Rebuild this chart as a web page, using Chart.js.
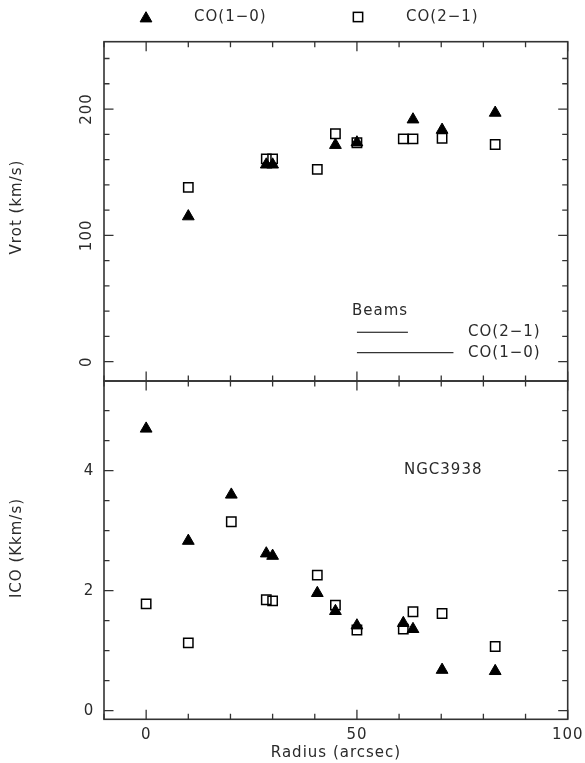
<!DOCTYPE html>
<html>
<head>
<meta charset="utf-8">
<script src="https://cdn.jsdelivr.net/npm/chart.js@4.4.0/dist/chart.umd.min.js"></script>
<style>
  body { margin: 0; background: #fff; }
  .wrap { position: relative; width: 585px; height: 763px; }
  .wrap canvas { position: absolute; left: 0; top: 0; }
</style>
</head>
<body>
<div class="wrap">
  <canvas id="vrotChart" width="585" height="763"></canvas>
  <canvas id="icoChart" width="585" height="763"></canvas>
</div>
<script>
// rotation curve, CO(1-0) and CO(2-1)
var vrotRadius10 = [10, 28.5, 30, 44.9, 50, 63.3, 70.2, 82.8];
var vrot10 = [115, 156, 156, 171.5, 173.5, 191.7, 183.5, 197];
var vrotRadius21 = [10, 28.5, 30, 40.6, 44.9, 50, 61, 63.3, 70.2, 82.8];
var vrot21 = [138, 160.6, 160.6, 152.2, 180.4, 173.3, 176.4, 176.4, 176.9, 171.9];

// integrated intensity profile
var icoRadius = [0, 10, 20.2, 28.5, 30, 40.6, 44.9, 50, 61, 63.3, 70.2, 82.8];
var ico10 = [4.70, 2.83, 3.60, 2.62, 2.58, 1.96, 1.66, 1.42, 1.46, 1.36, 0.68, 0.66];
var ico21 = [1.78, 1.13, 3.15, 1.85, 1.83, 2.26, 1.76, 1.345, 1.36, 1.65, 1.62, 1.07];

// beam sizes (arcsec), drawn as bars starting at r = 50
var beamNames = ['CO(2\u22121)', 'CO(1\u22120)'];
var beamSizes = [12.1, 22.9];
var beamLevels = [23.3, 7.1];
var beamStart = 50;

// axis ranges and ticks
var radiusRange = [-10, 100];
var vrotRange = [-15.3, 253.3];
var icoRange = [-0.143, 5.495];
var radiusTicks = [0, 50, 100];
var vrotTicks = [0, 100, 200];
var icoTicks = [0, 2, 4];

var FONT = '15px "DejaVu Sans", sans-serif';
var INK = '#2a2a2a';
var LINE = '#333';

function toPoints(xs, ys) {
    return xs.map(function(x, i) { return { x: x, y: ys[i] }; });
}

function drawText(ctx, text, x, y, align, rot) {
    ctx.save();
    ctx.translate(x, y);
    if (rot) ctx.rotate(rot);
    ctx.font = FONT;
    ctx.letterSpacing = '1px';
    ctx.fillStyle = INK;
    ctx.textAlign = align || 'center';
    ctx.textBaseline = 'middle';
    ctx.fillText(text, 0, 0);
    ctx.restore();
}

// frame with inward ticks on all four sides, plus tick labels
function framePlugin(cfg) {
    return {
        id: 'frame',
        afterDatasetsDraw: function(chart) {
            var ctx = chart.ctx, a = chart.chartArea;
            var xs = chart.scales.x, ys = chart.scales.y;
            ctx.save();
            ctx.strokeStyle = LINE;
            ctx.lineWidth = 1.6;
            ctx.strokeRect(a.left, a.top, a.right - a.left, a.bottom - a.top);

            ctx.lineWidth = 1.3;
            ctx.beginPath();
            var i, v, p, len;
            for (i = Math.ceil(xs.min / 10); i <= Math.floor(xs.max / 10); i++) {
                v = i * 10;
                p = xs.getPixelForValue(v);
                len = (v % 50 === 0) ? 9.5 : 5.5;
                ctx.moveTo(p, a.top); ctx.lineTo(p, a.top + len);
                ctx.moveTo(p, a.bottom); ctx.lineTo(p, a.bottom - len);
            }
            for (i = Math.ceil(ys.min / cfg.yMinor); i <= Math.floor(ys.max / cfg.yMinor); i++) {
                v = i * cfg.yMinor;
                p = ys.getPixelForValue(v);
                len = (i % cfg.yEvery === 0) ? 9.5 : 5.5;
                ctx.moveTo(a.left, p); ctx.lineTo(a.left + len, p);
                ctx.moveTo(a.right, p); ctx.lineTo(a.right - len, p);
            }
            ctx.stroke();
            ctx.restore();

            cfg.yTicks.forEach(function(t) {
                var py = ys.getPixelForValue(t);
                drawText(ctx, String(t), cfg.yLabelX, py, 'center', cfg.rotateY ? -Math.PI / 2 : 0);
            });
            drawText(ctx, cfg.title, 17, cfg.titleY, 'center', -Math.PI / 2);

            if (cfg.xLabels) {
                radiusTicks.forEach(function(t) {
                    drawText(ctx, String(t), xs.getPixelForValue(t), 735, 'center');
                });
                drawText(ctx, 'Radius (arcsec)', 336, 753, 'center');
            }
            if (cfg.extra) cfg.extra(ctx, chart);
        }
    };
}

function drawTriangle(ctx, x, y, r) {
    ctx.beginPath();
    ctx.moveTo(x, y - r);
    ctx.lineTo(x + r * Math.sin(2 * Math.PI / 3), y + r / 2);
    ctx.lineTo(x - r * Math.sin(2 * Math.PI / 3), y + r / 2);
    ctx.closePath();
    ctx.fillStyle = '#000';
    ctx.strokeStyle = '#000';
    ctx.lineWidth = 1;
    ctx.fill();
    ctx.stroke();
}

function drawSquare(ctx, x, y, s) {
    ctx.strokeStyle = '#000';
    ctx.lineWidth = 1.5;
    ctx.strokeRect(x - s / 2, y - s / 2, s, s);
}

function baseOptions(yRange, pad) {
    return {
        responsive: false,
        animation: false,
        events: [],
        layout: { padding: pad },
        scales: {
            x: { type: 'linear', display: false, min: radiusRange[0], max: radiusRange[1] },
            y: { type: 'linear', display: false, min: yRange[0], max: yRange[1] }
        },
        plugins: { legend: { display: false }, tooltip: { enabled: false } }
    };
}

var triStyle = {
    pointStyle: 'triangle', pointRadius: 6.8,
    backgroundColor: '#000', borderColor: '#000', borderWidth: 1, showLine: false
};
var boxStyle = {
    pointStyle: 'rect', pointRadius: 6.6,
    backgroundColor: 'rgba(0,0,0,0)', borderColor: '#000', borderWidth: 1.5, showLine: false
};

// top panel: rotation velocity
var vrotDatasets = [
    Object.assign({ label: 'CO(1-0)', data: toPoints(vrotRadius10, vrot10) }, triStyle),
    Object.assign({ label: 'CO(2-1)', data: toPoints(vrotRadius21, vrot21) }, boxStyle)
];
beamSizes.forEach(function(size, i) {
    vrotDatasets.push({
        label: 'beam ' + beamNames[i],
        data: [{ x: beamStart, y: beamLevels[i] }, { x: beamStart + size, y: beamLevels[i] }],
        showLine: true, pointRadius: 0, borderColor: '#000', borderWidth: 1
    });
});

new Chart(document.getElementById('vrotChart'), {
    type: 'scatter',
    data: { datasets: vrotDatasets },
    options: baseOptions(vrotRange, { top: 41.7, right: 17.3, bottom: 382, left: 104 }),
    plugins: [framePlugin({
        yMinor: 20, yEvery: 5, yTicks: vrotTicks, yLabelX: 87, rotateY: true,
        title: 'Vrot (km/s)', titleY: 207,
        extra: function(ctx, chart) {
            // legend along the top
            drawTriangle(ctx, 146, 18.5, 6.8);
            drawText(ctx, 'CO(1\u22120)', 194, 17, 'left');
            drawSquare(ctx, 358, 17, 9.3);
            drawText(ctx, 'CO(2\u22121)', 406, 17, 'left');
            // beam labels
            var ys = chart.scales.y;
            drawText(ctx, 'Beams', 352, 311, 'left');
            beamNames.forEach(function(name, i) {
                drawText(ctx, name, 468, ys.getPixelForValue(beamLevels[i]), 'left');
            });
        }
    })]
});

// bottom panel: CO intensity
new Chart(document.getElementById('icoChart'), {
    type: 'scatter',
    data: {
        datasets: [
            Object.assign({ label: 'CO(1-0)', data: toPoints(icoRadius, ico10) }, triStyle),
            Object.assign({ label: 'CO(2-1)', data: toPoints(icoRadius, ico21) }, boxStyle)
        ]
    },
    options: baseOptions(icoRange, { top: 381, right: 17.3, bottom: 43.7, left: 104 }),
    plugins: [framePlugin({
        yMinor: 0.5, yEvery: 4, yTicks: icoTicks, yLabelX: 89, rotateY: false,
        title: 'ICO (Kkm/s)', titleY: 548, xLabels: true,
        extra: function(ctx) {
            drawText(ctx, 'NGC3938', 404, 470, 'left');
        }
    })]
});
</script>
</body>
</html>
